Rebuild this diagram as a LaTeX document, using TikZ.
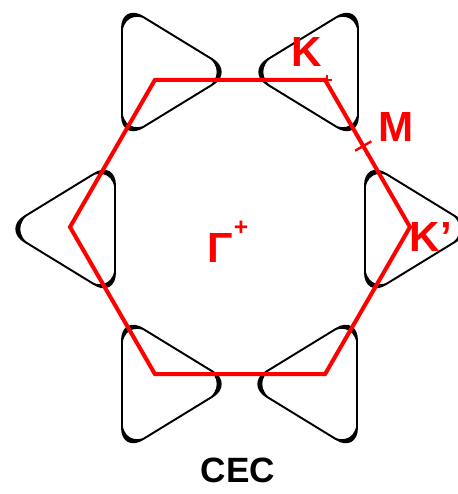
\documentclass[tikz,border=0pt]{standalone}
\usepackage{fontspec}
\setmainfont{Liberation Sans}
\usetikzlibrary{calc}
% trigonal pocket: #1,#2 position, #3 = 1 points right, -1 points left
\newcommand{\pocket}[3]{\begin{scope}[shift={(#1,#2)},xscale=#3]
        \fill[even odd rule] [rounded corners=14pt] (-31,-68) -- (-31,68) -- (80,0) -- cycle
            [rounded corners=18.5pt] (-31,-68) -- (-31,68) -- (80,0) -- cycle;
        \draw[pocketline] (-31,-68) -- (-31,68) -- (80,0) -- cycle;
    \end{scope}}

\begin{document}
\begin{tikzpicture}
                [x=0.02cm,y=-0.02cm,
                pocketline/.style={draw=black,line width=1.1pt,rounded corners=14pt},
                zone/.style={draw=red,line width=2.3pt,line join=miter},
                tick/.style={draw=red,line width=1.4pt},
                lbl/.style={text=red,font=\fontsize{24}{24}\selectfont\bfseries,inner sep=0pt},
                ]
                \useasboundingbox (0,0) rectangle (457,494);
                % pockets
                \pocket{153}{72}{1}	\pocket{327}{72}{-1}
                \pocket{84}{229}{-1}	\pocket{396}{229}{1}
                \pocket{153}{384}{1}	\pocket{326}{384}{-1}
                % zone
                \coordinate (G) at (240,227);
                \foreach \a in {0,60,...,300}{\coordinate (v\a) at ($(G)+(\a:170)$);}
                \draw[zone] (v0) -- (v60) -- (v120) -- (v180) -- (v240) -- (v300) -- cycle;
                \coordinate (Kpt) at (v300);
                \coordinate (Mpt) at ($(v300)!0.45!(v0)$);
                \draw[tick] ($(Kpt)+(2,-5)$) -- ($(Kpt)+(2,5)$);
                \draw[tick] (Kpt) -- ($(Kpt)+(7,0)$);
                \draw[tick] ($(Mpt)!0.1!90:(v0)$) -- ($(Mpt)!0.1!-90:(v0)$);
                % labels
                \node[lbl] (K) at (307,52) {K};
                \node[lbl] (M) at (396,127) {M};
                \node[lbl] (Kp) at (431,237) {K’};
                \node[lbl] (Gam) at (220,248) {Γ};
                \node[lbl,font=\fontsize{14}{14}\selectfont\bfseries] (Gp) at (241,228) {+};
                \node[font=\fontsize{20}{20}\selectfont\bfseries,inner sep=0pt] (cec) at (238,470) {CEC};
            \end{tikzpicture}
\end{document}
